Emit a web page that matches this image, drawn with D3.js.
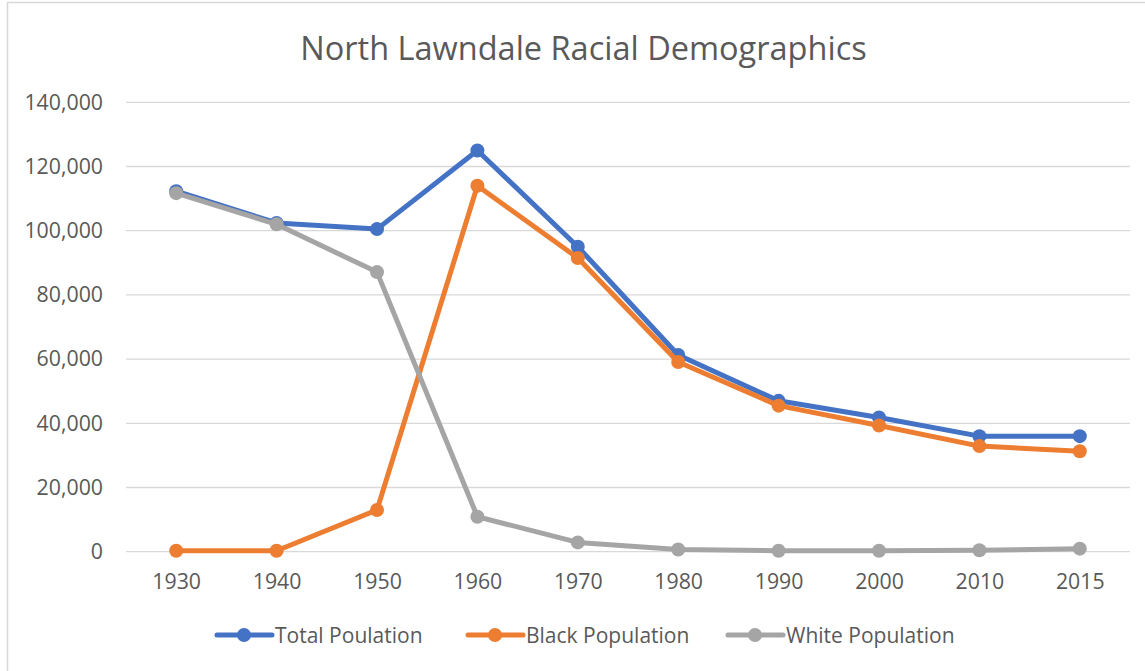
<!DOCTYPE html>
<html>
<head>
<meta charset="utf-8">
<script src="https://cdn.jsdelivr.net/npm/d3@7/dist/d3.min.js"></script>
<style>
  html, body { margin: 0; padding: 0; background: #fff; }
  svg { display: block; font-family: "Open Sans", sans-serif; }
</style>
</head>
<body>
<svg id="chart" width="1145" height="671"></svg>
<script>
const years = ["1930","1940","1950","1960","1970","1980","1990","2000","2010","2015"];
const totalPop = [112300, 102400, 100500, 125000, 95000, 61300, 47000, 41800, 36000, 36000];
const blackPop = [300, 300, 13000, 114000, 91500, 59100, 45500, 39300, 32900, 31300];
const whitePop = [111700, 102000, 87100, 10900, 2900, 700, 300, 300, 450, 950];
const seriesNames = ["Total Poulation", "Black Population", "White Population"];
const seriesColors = ["#4472C4", "#ED7D31", "#A5A5A5"];
const yTicks = [0, 20000, 40000, 60000, 80000, 100000, 120000, 140000];
const title = "North Lawndale Racial Demographics";

const series = [totalPop, blackPop, whitePop];
const svg = d3.select("#chart");

// chart border
svg.append("rect").attr("x", 7.5).attr("y", 2.5).attr("width", 1160).attr("height", 700)
  .attr("fill", "none").attr("stroke", "#D9D9D9").attr("stroke-width", 1.5);

const plot = { left: 126, right: 1130, top: 102.3, bottom: 551.7 };

const x = d3.scalePoint().domain(years).range([plot.left, plot.right]).padding(0.5);
const y = d3.scaleLinear().domain([0, 140000]).range([plot.bottom, plot.top]);

// gridlines
svg.append("g").selectAll("line").data(yTicks).join("line")
  .attr("x1", plot.left).attr("x2", plot.right)
  .attr("y1", d => y(d)).attr("y2", d => y(d))
  .attr("stroke", "#D9D9D9").attr("stroke-width", 1.3);

// y axis labels
const yAxis = d3.axisLeft(y).tickValues(yTicks).tickSize(0).tickPadding(0)
  .tickFormat(d3.format(","));
const gy = svg.append("g").attr("transform", `translate(103,0)`).call(yAxis);
gy.select(".domain").remove();
gy.selectAll("text").attr("fill", "#595959").style("font-size", "21.3px")
  .style("font-family", "'Open Sans', sans-serif");

// x axis labels
const xAxis = d3.axisBottom(x).tickSize(0).tickPadding(0);
const gx = svg.append("g").attr("transform", `translate(0,574)`).call(xAxis);
gx.select(".domain").remove();
gx.selectAll("text").attr("fill", "#595959").style("font-size", "21.3px")
  .style("font-family", "'Open Sans', sans-serif");

// lines and markers
const line = d3.line().x((d, i) => x(years[i])).y(d => y(d));
series.forEach((vals, si) => {
  const g = svg.append("g");
  g.append("path").datum(vals).attr("d", line)
    .attr("fill", "none").attr("stroke", seriesColors[si])
    .attr("stroke-width", 5).attr("stroke-linejoin", "round").attr("stroke-linecap", "round");
  g.selectAll("circle").data(vals).join("circle")
    .attr("cx", (d, i) => x(years[i])).attr("cy", d => y(d))
    .attr("r", 7).attr("fill", seriesColors[si]);
});

// title
svg.append("text").attr("x", 583.5).attr("y", 60).attr("text-anchor", "middle")
  .attr("fill", "#595959").style("font-size", "32.5px").text(title);

// legend
const legendX = [217, 468, 728];
const legendY = 635;
seriesNames.forEach((name, i) => {
  const g = svg.append("g").attr("transform", `translate(${legendX[i]},${legendY})`);
  g.append("line").attr("x1", 0).attr("x2", 55).attr("y1", 0).attr("y2", 0)
    .attr("stroke", seriesColors[i]).attr("stroke-width", 5).attr("stroke-linecap", "round");
  g.append("circle").attr("cx", 27).attr("cy", 0).attr("r", 7).attr("fill", seriesColors[i]);
  g.append("text").attr("x", 58).attr("y", 7.5).attr("fill", "#595959")
    .style("font-size", "21px").text(name);
});
</script>
</body>
</html>
